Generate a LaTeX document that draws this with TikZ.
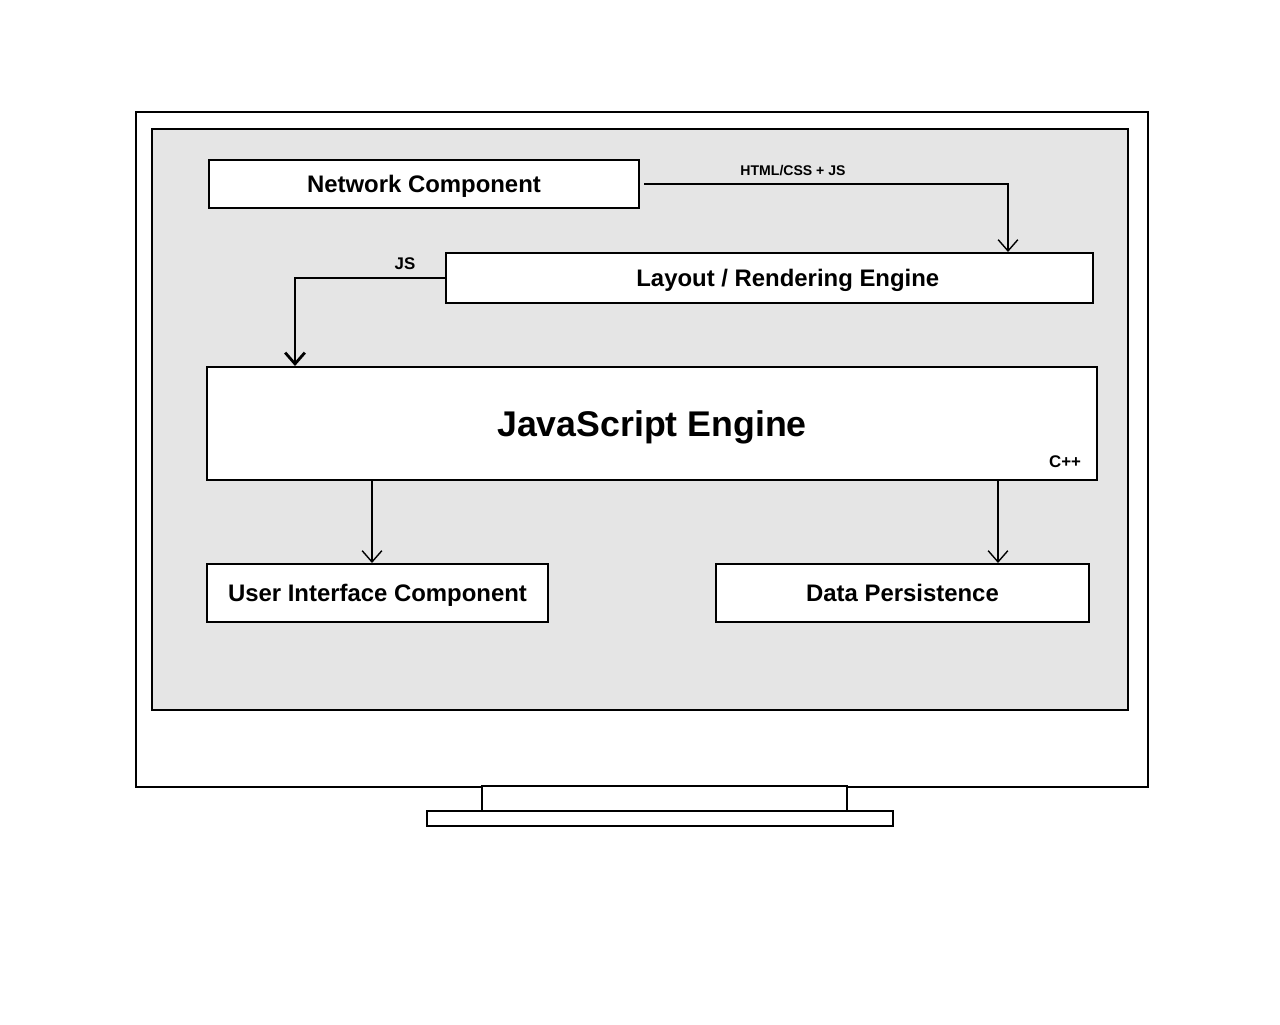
\documentclass[tikz,border=0pt]{standalone}
\usepackage{fontspec}
\setmainfont{Liberation Sans}
\usetikzlibrary{arrows.meta,positioning}

\begin{document}
\begin{tikzpicture}[x=0.025cm,y=-0.025cm]
	\tikzstyle{box}=[rectangle, draw=black, line width=1.4pt, fill=white, inner sep=0pt]
	\tikzstyle{title}=[font=\bfseries\fontsize{17}{20}\selectfont, text height=12.2pt, text depth=0pt]
	\tikzstyle{tag}=[font=\bfseries\fontsize{10}{12}\selectfont, inner sep=0pt]
	\tikzstyle{connect}=[-{Straight Barb[length=8pt,width=14pt]}, line width=1pt]
	\useasboundingbox[fill=white] (0,0) rectangle (1280,1024);
	% monitor
	\draw[line width=1.4pt] (136,112) rectangle (1148,787);
	\draw[line width=1.4pt, fill=black!10] (152,129) rectangle (1128,710);
	\draw[line width=1.6pt, fill=white] (482,786) rectangle (847,811);
	\draw[line width=1.6pt, fill=white] (427,811) rectangle (893,826);
	% components
	\node[box, title, minimum width=10.75cm, minimum height=1.2cm] (net) at (424,184) {Network Component};
	\node[box, minimum width=16.175cm, minimum height=1.25cm,
	      label={[title, xshift=13pt]center:Layout / Rendering Engine}] (layout) at (769.5,278) {};
	\node[box, font=\bfseries\fontsize{25.4}{30}\selectfont, text height=18.2pt, text depth=0pt,
	      minimum width=22.25cm, minimum height=2.825cm] (jse) at (652,423.5) {JavaScript Engine};
	\node[tag, font=\bfseries\fontsize{12}{14}\selectfont] (cpp) at (1065,462) {C++};
	\node[box, title, minimum width=8.525cm, minimum height=1.45cm] (ui) at (377.5,593) {User Interface Component};
	\node[box, title, minimum width=9.325cm, minimum height=1.45cm] (data) at (902.5,593) {Data Persistence};
	% connectors
	\coordinate (c1) at (1008,184);
	\coordinate (c2) at (295,278);
	\draw[connect] ([xshift=3pt]net.east) -- (c1) -- (layout.north -| c1);
	\node[tag] (html) at (793,171) {HTML/CSS + JS};
	\draw[connect, line width=2pt] (layout.west) -- (c2) -- (jse.north -| c2);
	\node[tag, font=\bfseries\fontsize{12}{14}\selectfont] (js) at (405,264) {JS};
	\draw[connect] (jse.south -| 372,0) -- (ui.north -| 372,0);
	\draw[connect] (jse.south -| 998,0) -- (data.north -| 998,0);
\end{tikzpicture}
\end{document}
